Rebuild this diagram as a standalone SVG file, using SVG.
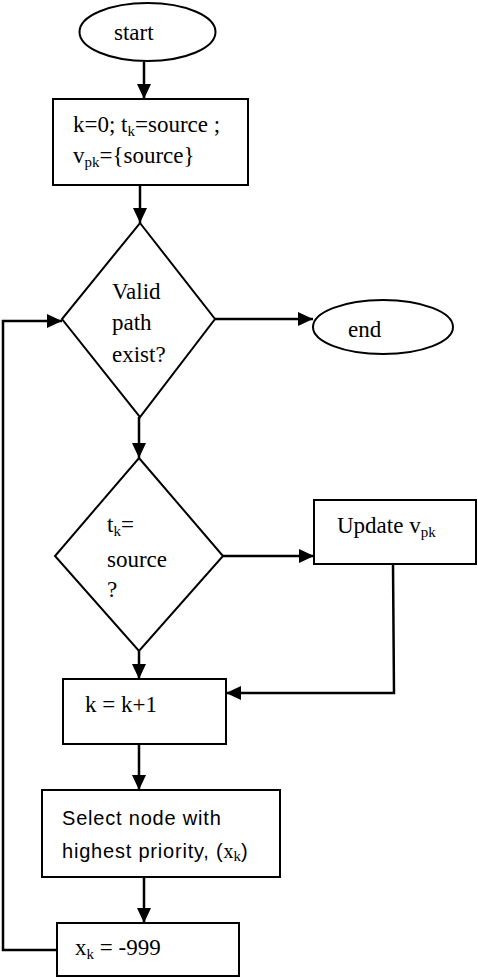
<svg xmlns="http://www.w3.org/2000/svg" width="478" height="978" viewBox="0 0 478 978">
<style>
.s{fill:#fff;stroke:#000;stroke-width:2}
.c{fill:none;stroke:#000;stroke-width:2.5}
.t{font-family:'Liberation Serif','Times New Roman',serif;font-size:23px;fill:#000}
.a{font-family:'Liberation Sans',Arial,sans-serif;font-size:20px;fill:#000;letter-spacing:0.8px}
.x{font-family:'Liberation Serif','Times New Roman',serif;letter-spacing:0}
.sub{font-size:15px}
</style>
<defs>
<marker id="ah" markerUnits="userSpaceOnUse" markerWidth="16" markerHeight="14" refX="15" refY="7" orient="auto">
<path d="M0,0 L15,7 L0,14 z" fill="#000"/>
</marker>
</defs>
<rect width="478" height="978" fill="#fff"/>
<g id="connectors">
<line class="c" x1="144" y1="62" x2="144" y2="99" marker-end="url(#ah)"/>
<line class="c" x1="140" y1="185" x2="140" y2="223" marker-end="url(#ah)"/>
<line class="c" x1="215" y1="319" x2="313" y2="319" marker-end="url(#ah)"/>
<line class="c" x1="139" y1="417" x2="139" y2="458" marker-end="url(#ah)"/>
<line class="c" x1="223" y1="556" x2="314" y2="556" marker-end="url(#ah)"/>
<polyline class="c" points="393,564 394,693 226,693" marker-end="url(#ah)"/>
<line class="c" x1="139" y1="651" x2="139" y2="679" marker-end="url(#ah)"/>
<line class="c" x1="139" y1="744" x2="139" y2="790" marker-end="url(#ah)"/>
<line class="c" x1="144" y1="877" x2="144" y2="923" marker-end="url(#ah)"/>
<polyline class="c" points="57,950 3,950 3,321 62,321" marker-end="url(#ah)"/>
</g>
<g id="start">
<ellipse class="s" cx="147.5" cy="32" rx="68" ry="29"/>
<text class="t" font-family="Liberation Serif, serif" x="114" y="40">start</text>
</g>
<g id="init">
<rect class="s" x="53" y="99" width="195" height="86"/>
<text class="t" font-family="Liberation Serif, serif" x="73" y="132">k=0; t<tspan class="sub" dy="4">k</tspan><tspan dy="-4">=source ;</tspan></text>
<text class="t" font-family="Liberation Serif, serif" x="73" y="163">v<tspan class="sub" dy="4">pk</tspan><tspan dy="-4">={source}</tspan></text>
</g>
<g id="valid">
<polygon class="s" points="140,223 215,319 140,417 62,319"/>
<text class="t" font-family="Liberation Serif, serif" x="112" y="299">Valid</text>
<text class="t" font-family="Liberation Serif, serif" x="112" y="330">path</text>
<text class="t" font-family="Liberation Serif, serif" x="112" y="362">exist?</text>
</g>
<g id="end">
<ellipse class="s" cx="383" cy="327" rx="70" ry="27"/>
<text class="t" font-family="Liberation Serif, serif" x="348" y="337">end</text>
</g>
<g id="check">
<polygon class="s" points="139,458 223,556 139,651 55,556"/>
<text class="t" font-family="Liberation Serif, serif" x="107" y="532">t<tspan class="sub" dy="4">k</tspan><tspan dy="-4">=</tspan></text>
<text class="t" font-family="Liberation Serif, serif" x="107" y="567">source</text>
<text class="t" font-family="Liberation Serif, serif" x="107" y="597">?</text>
</g>
<g id="update">
<rect class="s" x="314" y="500" width="162" height="64"/>
<text class="t" font-family="Liberation Serif, serif" x="337" y="533">Update v<tspan class="sub" dy="4">pk</tspan></text>
</g>
<g id="inc">
<rect class="s" x="63" y="679" width="163" height="65"/>
<text class="t" font-family="Liberation Serif, serif" x="85" y="712">k = k+1</text>
</g>
<g id="select">
<rect class="s" x="42" y="790" width="238" height="87"/>
<text class="a" x="62" y="825">Select node with</text>
<text class="a" x="62" y="858">highest priority, (<tspan class="x">x</tspan><tspan class="x sub" dy="3">k</tspan><tspan dy="-3">)</tspan></text>
</g>
<g id="reset">
<rect class="s" x="57" y="923" width="182" height="53"/>
<text class="t" font-family="Liberation Serif, serif" x="75" y="955">x<tspan class="sub" dy="4">k</tspan><tspan dy="-4"> = -999</tspan></text>
</g>
</svg>
